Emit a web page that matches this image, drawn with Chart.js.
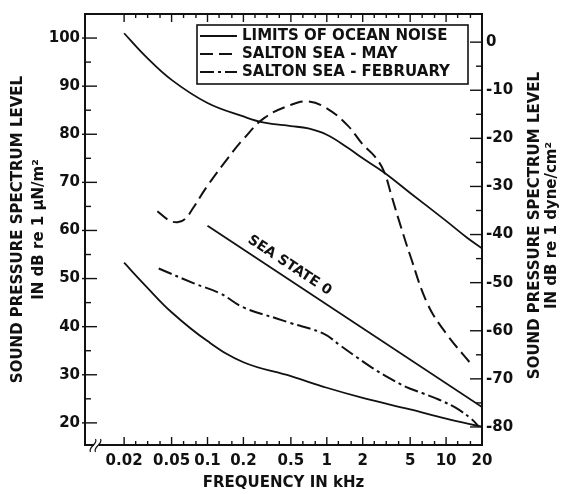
<!DOCTYPE html>
<html>
<head>
<meta charset="utf-8">
<script src="https://cdn.jsdelivr.net/npm/chart.js@4.4.1/dist/chart.umd.min.js"></script>
<style>
html,body{margin:0;padding:0;background:#fff;}
#wrap{width:561px;height:494px;position:relative;}
</style>
</head>
<body>
<div id="wrap"><canvas id="c" width="561" height="494"></canvas></div>
<script>
// ---------- data (frequency in kHz, level in dB re 1 µN/m²) ----------
const upperFreq = [0.02, 0.03, 0.05, 0.1, 0.2, 0.3, 0.5, 0.7, 1, 1.5, 2, 3, 5, 10, 15, 20];
const upperDb   = [101, 96.3, 91.3, 86.5, 83.7, 82.4, 81.7, 81.2, 79.9, 77.2, 75.0, 72.1, 67.8, 62.0, 58.5, 56.3];

const lowerFreq = [0.02, 0.03, 0.05, 0.1, 0.2, 0.5, 1, 2, 5, 10, 20];
const lowerDb   = [53.3, 48.6, 43.0, 37.0, 32.6, 29.7, 27.3, 25.2, 22.8, 20.9, 19.2];

const seaStateFreq = [0.1, 20];
const seaStateDb   = [61, 23.3];

const mayFreq = [0.038, 0.047, 0.056, 0.065, 0.075, 0.1, 0.15, 0.2, 0.3, 0.5, 0.7, 1, 1.5, 2, 2.5, 3, 3.5, 4, 5, 7, 10, 16.5];
const mayDb   = [64.0, 62.2, 61.7, 62.4, 64.5, 69.3, 75.2, 79.0, 83.4, 86.1, 86.8, 85.4, 81.8, 77.9, 75.5, 72.4, 67.1, 62.3, 54.8, 44.7, 38.6, 32.0];

const febFreq = [0.039, 0.077, 0.128, 0.2, 0.38, 0.49, 0.93, 1.28, 1.77, 2.42, 3.35, 4.6, 6.3, 8.75, 12.1, 16.5, 18.5];
const febDb   = [52.1, 49.0, 46.9, 44.0, 41.7, 40.8, 38.6, 36.2, 33.7, 31.4, 29.3, 27.5, 26.2, 24.8, 23.1, 20.7, 19.4];

// ---------- tick labels ----------
const xTickValues = [0.02, 0.025, 0.0315, 0.04, 0.05, 0.063, 0.08, 0.1, 0.125, 0.16, 0.2, 0.25, 0.315, 0.4, 0.5, 0.63, 0.8,
                     1, 1.25, 1.6, 2, 2.5, 3.15, 4, 5, 6.3, 8, 10, 12.5, 16, 20];
const xLabelValues = [0.02, 0.05, 0.1, 0.2, 0.5, 1, 2, 5, 10, 20];
const xLabelTexts  = ['0.02', '0.05', '0.1', '0.2', '0.5', '1', '2', '5', '10', '20'];
const leftTickValues  = [20, 25, 30, 35, 40, 45, 50, 55, 60, 65, 70, 75, 80, 85, 90, 95, 100];
const leftLabelValues = [20, 30, 40, 50, 60, 70, 80, 90, 100];
const rightTickValues  = [-80, -75, -70, -65, -60, -55, -50, -45, -40, -35, -30, -25, -20, -15, -10, -5, 0];
const rightLabelValues = [-80, -70, -60, -50, -40, -30, -20, -10, 0];

const leftTitle  = ['SOUND PRESSURE SPECTRUM LEVEL', 'IN dB re 1 \u00b5N/m\u00b2'];
const rightTitle = ['SOUND PRESSURE SPECTRUM LEVEL', 'IN dB re 1 dyne/cm\u00b2'];
const xTitle = 'FREQUENCY IN kHz';
const seaStateText = 'SEA STATE 0';

// ---------- styling ----------
const INK = '#111';
const FONT = '"DejaVu Sans", "Liberation Sans", sans-serif';
Chart.defaults.font.family = FONT;
Chart.defaults.font.weight = 'bold';
Chart.defaults.color = INK;

const pts = (fs, vs) => fs.map((f, i) => ({x: f, y: vs[i]}));

const datasets = [
  {label: 'LIMITS OF OCEAN NOISE', data: pts(upperFreq, upperDb), borderDash: [], borderWidth: 1.8, tension: 0.4, inLegend: true},
  {label: 'LIMITS OF OCEAN NOISE (lower)', data: pts(lowerFreq, lowerDb), borderDash: [], borderWidth: 1.8, tension: 0.4},
  {label: 'SEA STATE 0', data: pts(seaStateFreq, seaStateDb), borderDash: [], borderWidth: 1.8, tension: 0},
  {label: 'SALTON SEA - MAY', data: pts(mayFreq, mayDb), borderDash: [13, 6], borderWidth: 2, tension: 0.4, inLegend: true},
  {label: 'SALTON SEA - FEBRUARY', data: pts(febFreq, febDb), borderDash: [14, 4, 3, 4], borderWidth: 2, tension: 0.4, inLegend: true}
].map(d => Object.assign({borderColor: INK, backgroundColor: INK, pointRadius: 0, fill: false}, d));

// frame, inward ticks, legend, annotations
const decor = {
  id: 'decor',
  afterDraw(chart) {
    const {ctx, chartArea: a, scales} = chart;
    const x = scales.x, y = scales.y, y2 = scales.y2;
    ctx.save();
    ctx.strokeStyle = INK;
    ctx.fillStyle = INK;
    const seg = (x1, y1, x2, y2_) => { ctx.beginPath(); ctx.moveTo(x1, y1); ctx.lineTo(x2, y2_); ctx.stroke(); };

    // frame
    ctx.lineWidth = 2;
    ctx.strokeRect(a.left, a.top, a.right - a.left, a.bottom - a.top);

    // x ticks (bottom and top, inward)
    ctx.lineWidth = 1.4;
    for (const v of xTickValues) {
      const px = x.getPixelForValue(v);
      const len = xLabelValues.includes(v) ? 8 : 4;
      seg(px, a.bottom, px, a.bottom - len);
      seg(px, a.top, px, a.top + len);
    }
    // left ticks
    for (const v of leftTickValues) {
      const py = y.getPixelForValue(v);
      if (leftLabelValues.includes(v)) seg(a.left - 3, py, a.left + 12, py);
      else seg(a.left, py, a.left + 6, py);
    }
    // right ticks
    for (const v of rightTickValues) {
      const py = y2.getPixelForValue(v);
      if (rightLabelValues.includes(v)) seg(a.right - 12, py, a.right, py);
      else seg(a.right - 6, py, a.right, py);
    }

    // axis break mark on the bottom axis
    const bx = a.left + 11, by = a.bottom;
    ctx.fillStyle = '#fff';
    ctx.fillRect(bx - 2, by - 2, 5, 4);
    ctx.lineWidth = 1.2;
    for (const dx of [-2.5, 2.5]) {
      ctx.beginPath();
      ctx.moveTo(bx + dx - 3, by + 7);
      ctx.bezierCurveTo(bx + dx - 6, by + 2, bx + dx + 5, by - 1, bx + dx + 2, by - 6);
      ctx.stroke();
    }

    // legend
    const lx = a.left + 112, ly = a.top + 11, lw = 271, lh = 59;
    ctx.fillStyle = '#fff';
    ctx.fillRect(lx, ly, lw, lh);
    ctx.lineWidth = 1.6;
    ctx.strokeRect(lx, ly, lw, lh);
    ctx.fillStyle = INK;
    ctx.font = 'bold 15px ' + FONT;
    ctx.textBaseline = 'middle';
    ctx.textAlign = 'left';
    const legendItems = chart.data.datasets.filter(d => d.inLegend);
    legendItems.forEach((d, i) => {
      const ry = ly + 11 + i * 18;
      ctx.save();
      ctx.lineWidth = 2;
      ctx.setLineDash(d.borderDash || []);
      seg(lx + 3, ry, lx + 40, ry);
      ctx.restore();
      ctx.fillText(d.label, lx + 45, ry + 0.5);
    });

    // SEA STATE 0 label along its line
    const p1x = x.getPixelForValue(seaStateFreq[0]), p1y = y.getPixelForValue(seaStateDb[0]);
    const p2x = x.getPixelForValue(seaStateFreq[1]), p2y = y.getPixelForValue(seaStateDb[1]);
    const ang = Math.atan2(p2y - p1y, p2x - p1x);
    const t = 0.275;
    const cx = p1x + (p2x - p1x) * t, cy = p1y + (p2y - p1y) * t;
    ctx.save();
    ctx.translate(cx + Math.sin(ang) * 12, cy - Math.cos(ang) * 12);
    ctx.rotate(ang);
    ctx.textAlign = 'center';
    ctx.textBaseline = 'middle';
    ctx.font = 'bold 14px ' + FONT;
    ctx.fillText(seaStateText, 0, 0);
    ctx.restore();

    // right axis title (reads bottom to top)
    ctx.save();
    ctx.font = 'bold 15px ' + FONT;
    ctx.textAlign = 'center';
    ctx.textBaseline = 'middle';
    const ty = (a.top + a.bottom) / 2 - 4;
    [[535.5, rightTitle[0]], [552, rightTitle[1]]].forEach(([tx, s]) => {
      ctx.save();
      ctx.translate(tx, ty);
      ctx.rotate(-Math.PI / 2);
      ctx.fillText(s, 0, 0);
      ctx.restore();
    });
    ctx.restore();

    ctx.restore();
  }
};

new Chart(document.getElementById('c'), {
  type: 'line',
  data: {datasets},
  options: {
    responsive: false,
    animation: false,
    devicePixelRatio: 1,
    layout: {padding: {top: 12, left: 0, right: 0, bottom: 0}},
    plugins: {legend: {display: false}, tooltip: {enabled: false}},
    scales: {
      x: {
        type: 'logarithmic',
        position: 'bottom',
        min: 0.0094, max: 20,
        afterBuildTicks: s => { s.ticks = xTickValues.map(v => ({value: v})); },
        afterFit: s => { s.height = 49; },
        grid: {display: false, drawTicks: false},
        border: {display: false},
        ticks: {
          autoSkip: false, maxRotation: 0, minRotation: 0, padding: 7,
          font: {size: 15, weight: 'bold'},
          callback: v => { const i = xLabelValues.indexOf(v); return i >= 0 ? xLabelTexts[i] : ''; }
        },
        title: {display: true, text: xTitle, font: {size: 15, weight: 'bold', lineHeight: 1.33}, padding: {top: 0, bottom: 1}}
      },
      y: {
        type: 'linear',
        position: 'left',
        min: 15.4, max: 105,
        afterBuildTicks: s => { s.ticks = leftTickValues.map(v => ({value: v})); },
        afterFit: s => { s.width = 85; },
        grid: {display: false, drawTicks: false},
        border: {display: false},
        ticks: {
          autoSkip: false, padding: 5,
          font: {size: 15, weight: 'bold'},
          callback: v => leftLabelValues.includes(v) ? String(v) : ''
        },
        title: {display: true, text: leftTitle, font: {size: 15, weight: 'bold', lineHeight: 1.367}, padding: {top: 8, bottom: 0}}
      },
      y2: {
        type: 'linear',
        position: 'right',
        min: -83.75, max: 5.85,
        afterBuildTicks: s => { s.ticks = rightTickValues.map(v => ({value: v})); },
        afterFit: s => { s.width = 79; },
        grid: {display: false, drawTicks: false},
        border: {display: false},
        ticks: {
          autoSkip: false, padding: 4,
          font: {size: 15, weight: 'bold'},
          callback: v => rightLabelValues.includes(v) ? String(v) : ''
        }
      }
    }
  },
  plugins: [decor]
});
</script>
</body>
</html>
